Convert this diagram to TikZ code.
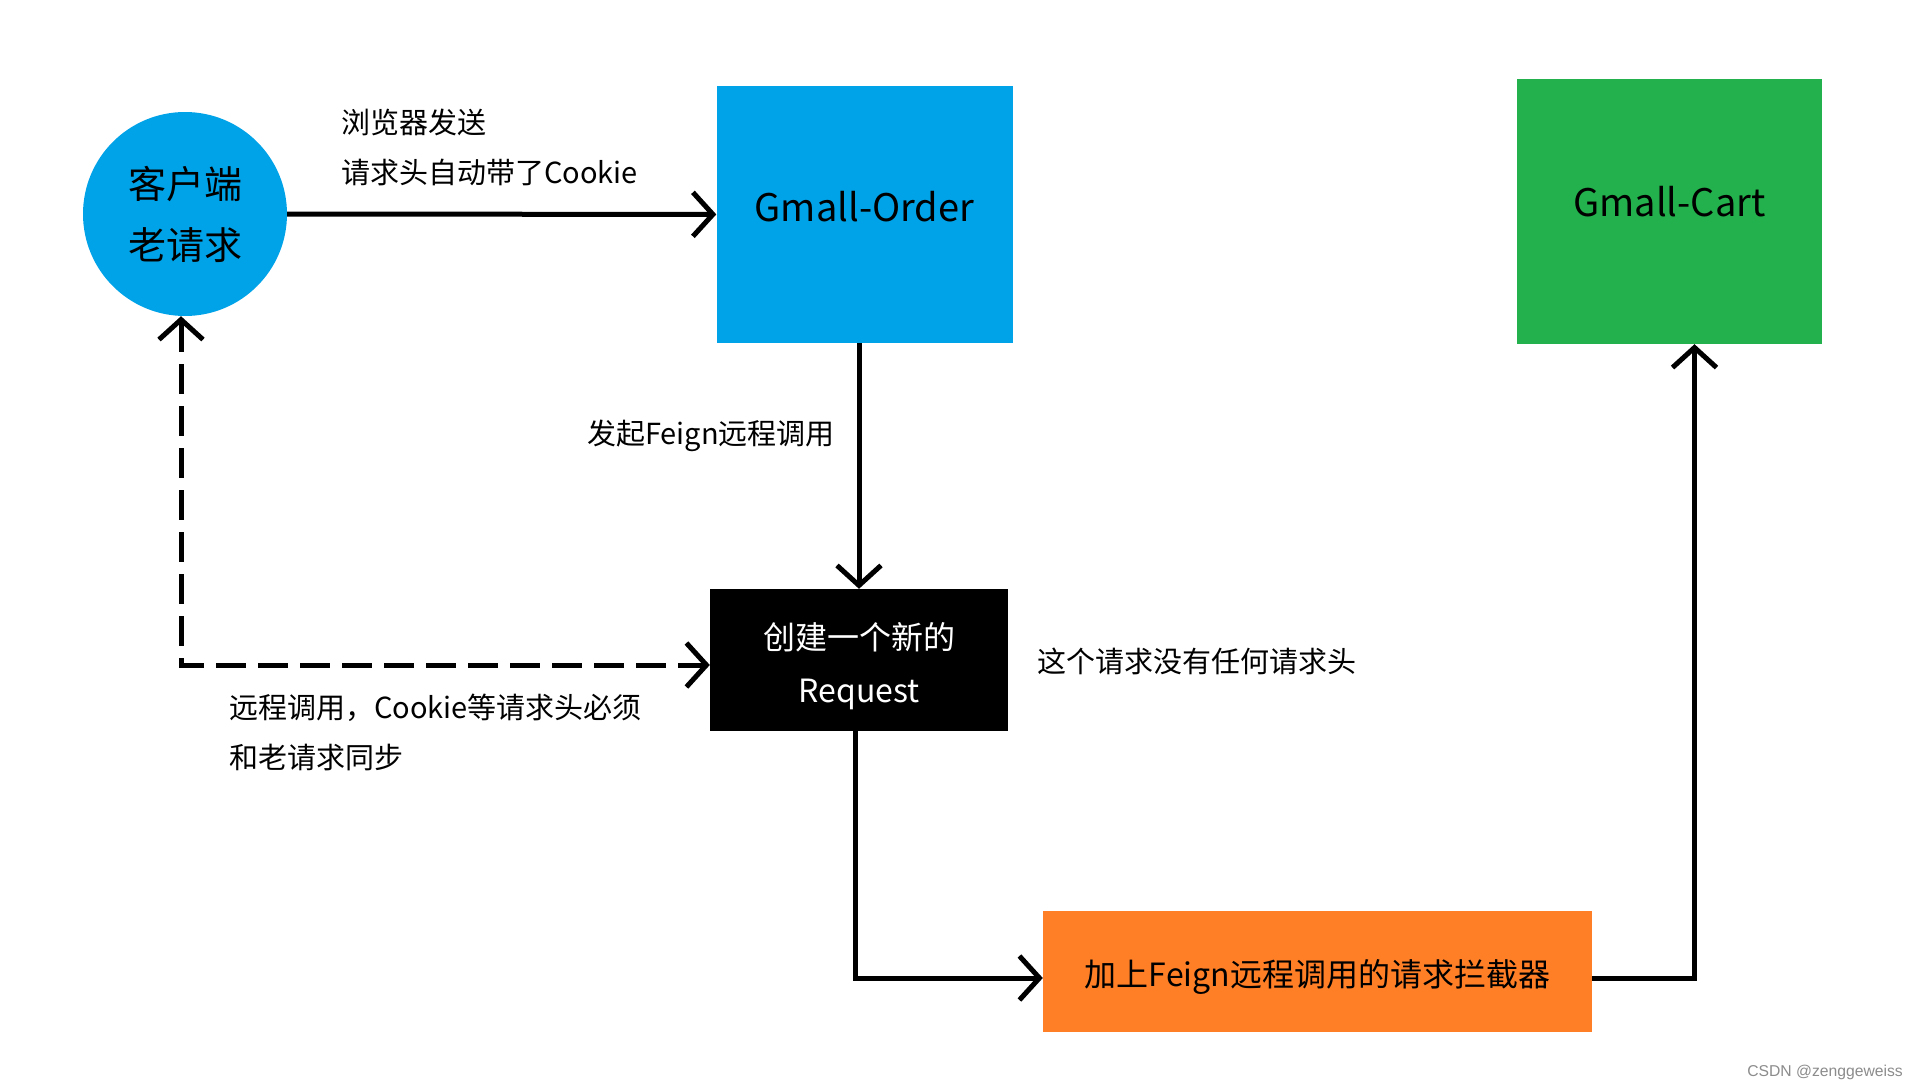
\documentclass[tikz,border=0pt]{standalone}
\usepackage{fontspec}
\setmainfont{Noto Sans CJK SC}
\newfontfamily\wmfont{Liberation Sans}
\usetikzlibrary{arrows.meta,calc}
\definecolor{paintblue}{HTML}{00A2E8}
\definecolor{paintgreen}{HTML}{22B14C}
\definecolor{paintorange}{HTML}{FF7F27}
\definecolor{wmgray}{HTML}{8C8C8C}
\newcommand{\shiftink}[2]{\raisebox{#1}[\height][\depth]{#2}}
\begin{document}
\begin{tikzpicture}[x=1pt,y=-1pt,
  tipbarb/.tip={Straight Barb[length=20pt,width=44pt]},
  flow/.style={line width=5pt,-tipbarb},
  dflow/.style={line width=5pt,tipbarb-tipbarb,dash pattern=on 30pt off 12pt},
  boxnode/.style={rectangle,inner sep=0pt,align=center},
  lbl/.style={anchor=west,align=left,inner sep=0pt,font=\fontsize{29}{50}\selectfont}]
\useasboundingbox (0,0) rectangle (1917,1092);
\fill[white] (0,0) rectangle (1917,1092);

\node[circle,fill=paintblue,minimum size=204pt,inner sep=0pt,align=center,
      font=\fontsize{38}{61}\selectfont] (client) at (185,214) {客户端\\老请求};
\node[boxnode,fill=paintblue,minimum width=296pt,minimum height=257pt,
      font=\fontsize{38}{48}\selectfont] (order) at (864.5,214.5) {\shiftink{7.5pt}{Gmall-Order}};
\node[boxnode,fill=paintgreen,minimum width=305pt,minimum height=265pt,
      font=\fontsize{38}{48}\selectfont] (cart) at (1669.5,211.5) {\shiftink{10pt}{Gmall-Cart}};
\node[boxnode,fill=black,text=white,minimum width=298pt,minimum height=142pt,
      font=\fontsize{32}{53}\selectfont] (req) at (859,660) {\shiftink{-6pt}{\parbox{298pt}{\centering 创建一个新的\\Request}}};
\node[boxnode,fill=paintorange,minimum width=549pt,minimum height=121pt,
      font=\fontsize{32}{40}\selectfont] (icpt) at (1317.5,971) {\shiftink{-6pt}{加上Feign远程调用的请求拦截器}};

\node[lbl] (l1) at (341,147) {浏览器发送\\请求头自动带了Cookie};
\node[lbl] (l2) at (587,436) {发起Feign远程调用};
\node[lbl] (l3) at (1037,661) {这个请求没有任何请求头};
\node[lbl] (l4) at (229,732) {远程调用，Cookie等请求头必须\\和老请求同步};
\node[anchor=east,inner sep=0pt,text=wmgray,font=\wmfont\fontsize{15.7}{18}\selectfont] (wm) at (1903,1072) {CSDN @zenggeweiss};

\draw[flow] (client) -- (order);
\draw[flow] (req.north |- order.south) -- (req.north);
\draw[flow] ([xshift=-4pt]req.south) |- ([yshift=-7pt]icpt.west);
\draw[flow] ([yshift=-7pt]icpt.east) -| ([xshift=25pt]cart.south);
\draw[dflow] ([xshift=-4pt]client.south) |- ([yshift=-5pt]req.west);
\end{tikzpicture}
\end{document}
